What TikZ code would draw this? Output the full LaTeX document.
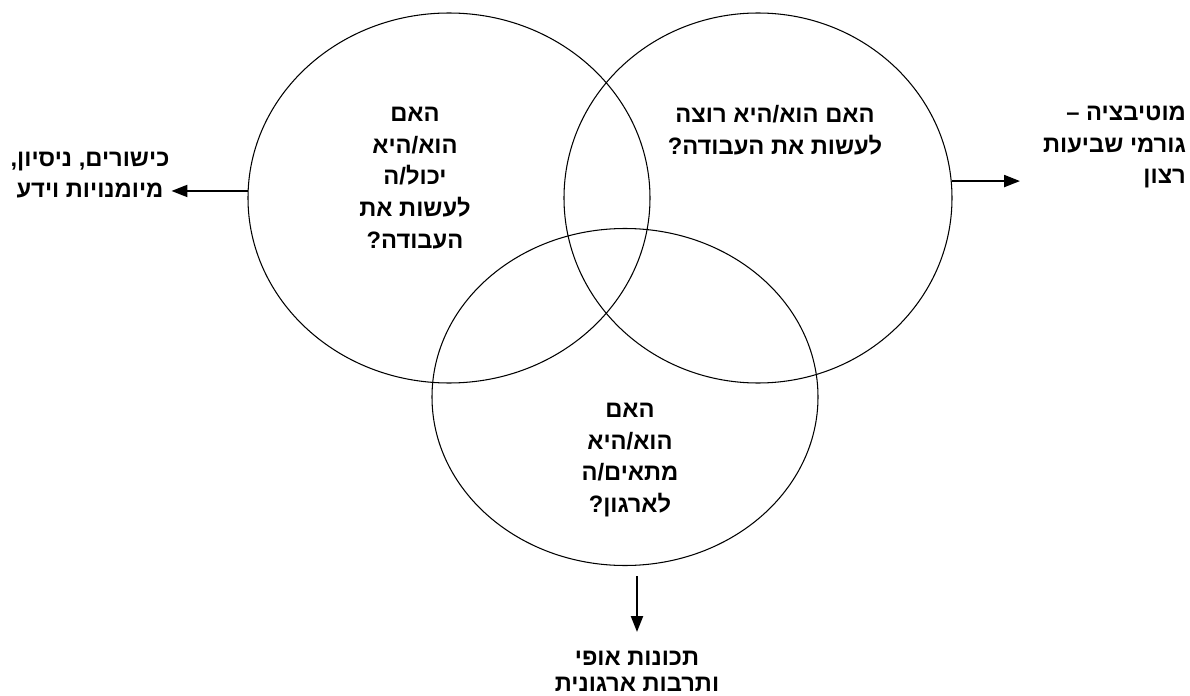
\documentclass[tikz,border=0pt]{standalone}
\usepackage{fontspec}
\newfontfamily\hebfont[Script=Hebrew,UprightFont={* Bold}]{Liberation Sans}
\TeXXeTstate=1
\newcommand{\rl}[1]{\beginR #1\endR}
\usetikzlibrary{arrows.meta,calc,positioning,shapes.geometric}
\tikzset{
  ring/.style={draw=black,ellipse,line width=0.6pt,inner sep=0pt},
  qtext/.style={font=\hebfont\fontsize{13.5}{18}\selectfont,align=center,inner sep=1pt},
  arr/.style={-{Triangle[length=3.2mm,width=2.4mm]},line width=1.2pt}
}
\begin{document}
\begin{tikzpicture}
  \path[use as bounding box] (0,0) rectangle (23.8,13.9);

  % three overlapping circles
  \node[ring,minimum width=8.04cm,minimum height=7.40cm] (lc) at (8.98,9.94) {};
  \node[ring,minimum width=7.76cm,minimum height=7.40cm] (rc) at (15.16,9.94) {};
  \node[ring,minimum width=7.72cm,minimum height=6.74cm] (bc) at (12.50,5.96) {};

  \node[qtext] (lq) at (8.30,10.34) {\rl{האם}\\\rl{הוא/היא}\\\rl{יכול/ה}\\\rl{לעשות את}\\\rl{העבודה?}};
  \node[qtext] (rq) at (15.50,11.30) {\rl{האם הוא/היא רוצה}\\\rl{לעשות את העבודה?}};
  \node[qtext] (bq) at (12.60,4.70) {\rl{האם}\\\rl{הוא/היא}\\\rl{מתאים/ה}\\\rl{לארגון?}};

  % outer labels
  \node[qtext] (skills) at (1.80,10.40) {\rl{כישורים, ניסיון,}\\\rl{מיומנויות וידע}};
  \node[qtext,anchor=east,align=right] (motiv) at (23.76,10.96) {\rl{מוטיבציה –}\\\rl{גורמי שביעות}\\\rl{רצון}};
  \node[qtext,font=\hebfont\fontsize{13.5}{15}\selectfont,anchor=north] (traits) at (12.74,0.92) {\rl{תכונות אופי}\\\rl{ותרבות ארגונית}};

  \draw[arr] (lc.178) -- (lc.178 -| skills.east);
  \draw[arr,shorten >=0.42cm] (rc.5) -- (rc.5 -| motiv.west);
  \draw[arr,shorten >=0.34cm] ($(bc.south -| traits.north)+(0,-0.2)$) -- (traits.north);
\end{tikzpicture}
\end{document}
